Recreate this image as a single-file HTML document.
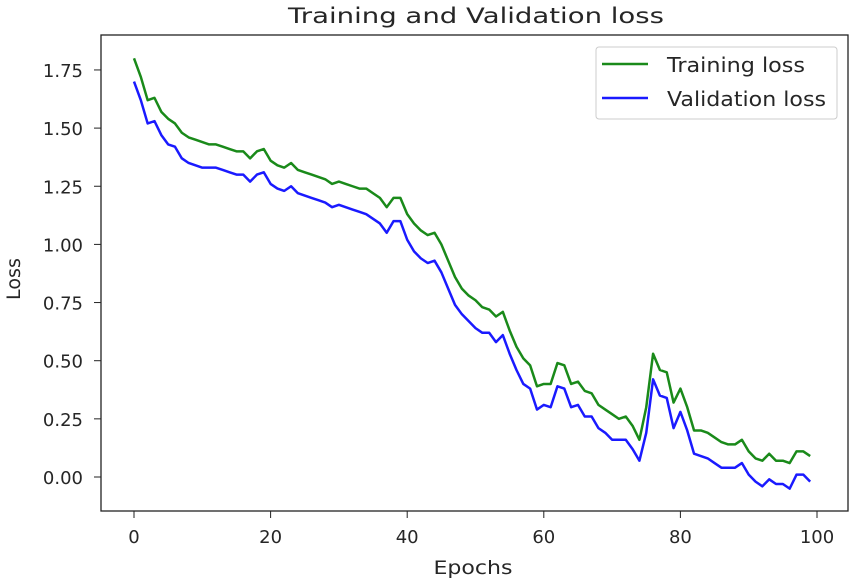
<!DOCTYPE html>
<html><head><meta charset="utf-8"><style>
body{margin:0;background:#fff;}
svg text{font-family:"DejaVu Sans","Liberation Sans",sans-serif;fill:#262626;}
</style></head><body>
<svg id="chart" width="851" height="581" xmlns="http://www.w3.org/2000/svg">
<text x="476" y="23" font-size="21" text-anchor="middle" textLength="376" lengthAdjust="spacingAndGlyphs">Training and Validation loss</text>
<g id="plot"></g>
<rect x="101" y="35" width="747" height="476" fill="none" stroke="#222" stroke-width="1.3"/>
<text x="473" y="574" font-size="19" text-anchor="middle" textLength="79" lengthAdjust="spacingAndGlyphs">Epochs</text>
<text x="20" y="279" font-size="19" text-anchor="middle" transform="rotate(-90 20 279)" textLength="42" lengthAdjust="spacingAndGlyphs">Loss</text>
<g>
<rect x="596" y="47" width="241" height="72" rx="3" fill="#fff" stroke="#ccc"/>
<line x1="602" y1="64" x2="648" y2="64" stroke="#1a8a1a" stroke-width="2.5"/>
<text x="667" y="72" font-size="20" textLength="138" lengthAdjust="spacingAndGlyphs">Training loss</text>
<line x1="602" y1="98" x2="648" y2="98" stroke="#1a1aff" stroke-width="2.5"/>
<text x="667" y="106" font-size="20" textLength="159" lengthAdjust="spacingAndGlyphs">Validation loss</text>
</g>
</svg>
<script>
const xTicks=[0,20,40,60,80,100];
const yTicks=[0,0.25,0.5,0.75,1.0,1.25,1.5,1.75];
const yTickLabels=["0.00","0.25","0.50","0.75","1.00","1.25","1.50","1.75"];
const trainLoss=[1.80,1.72,1.62,1.63,1.57,1.54,1.52,1.48,1.46,1.45,1.44,1.43,1.43,1.42,1.41,1.40,1.40,1.37,1.40,1.41,1.36,1.34,1.33,1.35,1.32,1.31,1.30,1.29,1.28,1.26,1.27,1.26,1.25,1.24,1.24,1.22,1.20,1.16,1.20,1.20,1.13,1.09,1.06,1.04,1.05,1.00,0.93,0.86,0.81,0.78,0.76,0.73,0.72,0.69,0.71,0.63,0.56,0.51,0.48,0.39,0.40,0.40,0.49,0.48,0.40,0.41,0.37,0.36,0.31,0.29,0.27,0.25,0.26,0.22,0.16,0.30,0.53,0.46,0.45,0.32,0.38,0.30,0.20,0.20,0.19,0.17,0.15,0.14,0.14,0.16,0.11,0.08,0.07,0.10,0.07,0.07,0.06,0.11,0.11,0.09];
const valLoss=[1.70,1.62,1.52,1.53,1.47,1.43,1.42,1.37,1.35,1.34,1.33,1.33,1.33,1.32,1.31,1.30,1.30,1.27,1.30,1.31,1.26,1.24,1.23,1.25,1.22,1.21,1.20,1.19,1.18,1.16,1.17,1.16,1.15,1.14,1.13,1.11,1.09,1.05,1.10,1.10,1.02,0.97,0.94,0.92,0.93,0.88,0.81,0.74,0.70,0.67,0.64,0.62,0.62,0.58,0.61,0.53,0.46,0.40,0.38,0.29,0.31,0.30,0.39,0.38,0.30,0.31,0.26,0.26,0.21,0.19,0.16,0.16,0.16,0.12,0.07,0.19,0.42,0.35,0.34,0.21,0.28,0.20,0.10,0.09,0.08,0.06,0.04,0.04,0.04,0.06,0.01,-0.02,-0.04,-0.01,-0.03,-0.03,-0.05,0.01,0.01,-0.02];
const X0=134,XS=6.83,Y0=477,YS=232.6;
function xs(v){return X0+v*XS;}
function ys(v){return Y0-v*YS;}
const NS='http://www.w3.org/2000/svg';
const g=document.getElementById('plot');
function mk(t,a){const e=document.createElementNS(NS,t);for(const k in a)e.setAttribute(k,a[k]);g.appendChild(e);return e;}
xTicks.forEach(t=>{
 const l=mk('line',{x1:xs(t),x2:xs(t),y1:511,y2:518,stroke:'#222'});
 
 
 const tx=mk('text',{x:xs(t),y:543,'font-size':18,'text-anchor':'middle'});tx.textContent=t;
 
 
});
yTicks.forEach((t,i)=>{
 const l=mk('line',{x1:94,x2:101,y1:ys(t),y2:ys(t),stroke:'#222'});
 
 
 const tx=mk('text',{x:83,y:ys(t)+7,'font-size':18,'text-anchor':'end'});tx.textContent=yTickLabels[i];
 
 
});
function line(d,c,n){
 const p=mk('polyline',{points:d.map((v,i)=>xs(i)+','+ys(v)).join(' '),fill:'none',stroke:c,'stroke-width':2.5,'stroke-linejoin':'round'});
 
 
}
line(trainLoss,'#1a8a1a','training-loss-line');
line(valLoss,'#1a1aff','validation-loss-line');
</script>
</body></html>
